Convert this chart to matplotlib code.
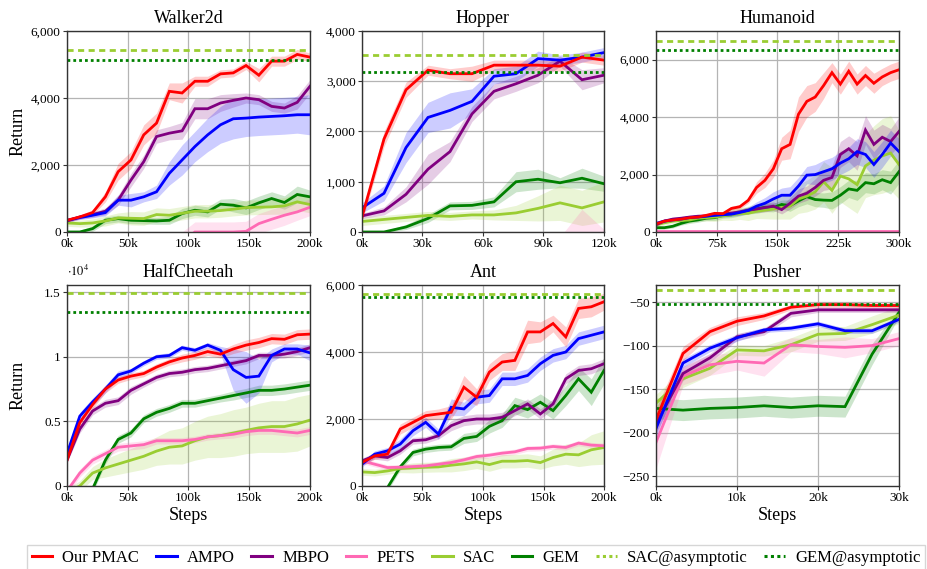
import numpy as np
import matplotlib
matplotlib.use("Agg")
import matplotlib.pyplot as plt
from matplotlib.ticker import FuncFormatter, FixedLocator
from matplotlib.lines import Line2D

plt.rcParams['font.family'] = ['Liberation Serif', 'DejaVu Serif']
plt.rcParams['mathtext.fontset'] = 'stix'

methods = ["Our PMAC", "AMPO", "MBPO", "PETS", "SAC", "GEM"]
colors = {"Our PMAC": "#ff0000", "AMPO": "#0000ff", "MBPO": "#800080",
          "PETS": "#ff69b4", "SAC": "#9acd32", "GEM": "#008000"}

# ---------------- Walker2d ----------------
walker_steps_max = 200000
walker_mean = {
    "Our PMAC": [350, 450, 580, 1050, 1800, 2150, 2900, 3250, 4200, 4150, 4500, 4500, 4720, 4750, 4970, 4680, 5100, 5100, 5300, 5220],
    "AMPO": [350, 430, 500, 580, 950, 950, 1050, 1200, 1750, 2150, 2550, 2900, 3200, 3380, 3400, 3430, 3450, 3470, 3500, 3500],
    "MBPO": [330, 450, 520, 620, 950, 1550, 2100, 2850, 2950, 3020, 3680, 3680, 3850, 3930, 4000, 3950, 3750, 3700, 3870, 4350],
    "PETS": [-2500, -2300, -2100, -1900, -1700, -1500, -1300, -1100, -800, -300, 0, 0, 0, 0, 20, 250, 380, 500, 600, 740],
    "SAC": [270, 250, 270, 330, 420, 410, 400, 520, 500, 560, 620, 620, 640, 680, 730, 740, 750, 780, 900, 820],
    "GEM": [0, 0, 100, 350, 400, 350, 340, 330, 350, 550, 650, 600, 830, 800, 720, 870, 1000, 880, 1120, 1050],
}
walker_std = {
    "Our PMAC": [50, 60, 80, 150, 250, 250, 300, 300, 250, 300, 150, 150, 120, 120, 120, 200, 150, 150, 150, 120],
    "AMPO": [50, 60, 80, 100, 150, 200, 150, 200, 350, 450, 450, 500, 550, 600, 550, 550, 550, 550, 550, 600],
    "MBPO": [50, 60, 80, 100, 150, 200, 200, 200, 200, 250, 300, 300, 250, 200, 150, 150, 150, 150, 200, 200],
    "PETS": [300, 300, 300, 300, 300, 300, 300, 300, 300, 300, 300, 300, 300, 300, 300, 300, 300, 300, 250, 250],
    "SAC": [100, 100, 120, 150, 150, 200, 200, 200, 200, 200, 200, 200, 200, 200, 220, 220, 220, 250, 250, 250],
    "GEM": [50, 50, 80, 100, 100, 100, 100, 100, 120, 150, 150, 150, 150, 200, 200, 200, 200, 200, 250, 200],
}
walker_asym = {"SAC": 5430, "GEM": 5145}

# ---------------- Hopper ----------------
hopper_steps_max = 120000
hopper_mean = {
    "Our PMAC": [300, 1850, 2830, 3220, 3150, 3150, 3320, 3320, 3320, 3300, 3480, 3420],
    "AMPO": [480, 770, 1680, 2280, 2420, 2600, 3100, 3150, 3450, 3420, 3480, 3570],
    "MBPO": [320, 420, 750, 1250, 1600, 2350, 2800, 2950, 3120, 3400, 3030, 3120],
    "PETS": [-1500, -1400, -1300, -1200, -1100, -1000, -900, -800, -700, -600, -300, -400],
    "SAC": [210, 250, 290, 330, 310, 340, 340, 380, 470, 580, 480, 600],
    "GEM": [0, 0, 100, 270, 520, 530, 600, 1000, 1050, 980, 1070, 960],
}
hopper_std = {
    "Our PMAC": [100, 150, 150, 100, 100, 150, 100, 100, 100, 100, 100, 100],
    "AMPO": [100, 150, 300, 300, 350, 250, 150, 150, 150, 100, 100, 100],
    "MBPO": [50, 80, 150, 300, 200, 150, 150, 150, 150, 100, 200, 150],
    "PETS": [300, 300, 300, 300, 300, 300, 300, 300, 300, 500, 750, 450],
    "SAC": [80, 80, 80, 80, 80, 80, 100, 150, 250, 350, 350, 400],
    "GEM": [20, 20, 50, 80, 80, 80, 100, 200, 200, 100, 200, 150],
}
hopper_asym = {"SAC": 3520, "GEM": 3180}

# ---------------- Humanoid ----------------
humanoid_steps_max = 300000
humanoid_mean = {
    "Our PMAC": [280, 380, 420, 450, 500, 520, 580, 650, 640, 820, 880, 1100, 1550, 1800, 2200, 2900, 3050, 4100, 4550, 4700, 5100, 5550, 5150, 5600, 5150, 5450, 5180, 5400, 5550, 5650],
    "AMPO": [300, 380, 420, 450, 500, 520, 550, 580, 600, 620, 680, 750, 900, 1000, 1150, 1280, 1280, 1600, 1980, 2000, 2100, 2200, 2400, 2550, 2800, 2700, 2350, 2700, 3100, 2800],
    "MBPO": [250, 380, 450, 480, 520, 550, 560, 590, 620, 660, 700, 760, 800, 850, 900, 780, 1000, 1250, 1350, 1550, 1800, 1900, 2700, 2900, 2650, 3550, 3050, 3300, 3150, 3500],
    "PETS": [20] * 30,
    "SAC": [250, 320, 380, 400, 420, 480, 500, 520, 560, 600, 640, 650, 720, 760, 800, 850, 900, 1150, 1250, 1400, 1750, 1450, 1950, 1850, 1650, 2300, 2500, 2650, 2750, 2350],
    "GEM": [150, 150, 200, 300, 380, 420, 480, 500, 580, 600, 680, 750, 800, 860, 850, 960, 920, 1080, 1230, 1130, 1110, 1100, 1280, 1500, 1450, 1720, 1680, 1820, 1720, 2100],
}
humanoid_std = {
    "Our PMAC": [50, 50, 50, 50, 50, 60, 60, 60, 60, 80, 80, 100, 200, 250, 300, 400, 500, 600, 550, 500, 450, 350, 350, 350, 350, 350, 350, 300, 300, 300],
    "AMPO": [60, 60, 60, 60, 60, 60, 60, 80, 80, 80, 100, 120, 150, 200, 250, 250, 300, 300, 300, 350, 400, 400, 400, 400, 450, 450, 450, 450, 450, 450],
    "MBPO": [50, 50, 60, 60, 60, 60, 60, 80, 80, 80, 100, 100, 120, 150, 150, 150, 200, 250, 250, 300, 350, 400, 450, 450, 500, 500, 500, 450, 450, 500],
    "PETS": [10] * 30,
    "SAC": [80, 80, 80, 80, 100, 100, 120, 150, 150, 200, 200, 250, 250, 300, 350, 400, 450, 500, 550, 600, 700, 800, 900, 1000, 1000, 1100, 1200, 1300, 1300, 1200],
    "GEM": [50, 50, 60, 60, 80, 80, 80, 100, 100, 100, 120, 120, 150, 150, 150, 150, 200, 200, 250, 250, 250, 300, 300, 300, 350, 350, 350, 350, 400, 400],
}
humanoid_asym = {"SAC": 6650, "GEM": 6355}

# ---------------- HalfCheetah ----------------
cheetah_steps_max = 200000
cheetah_mean = {
    "Our PMAC": [2000, 4900, 6300, 7500, 8200, 8500, 8700, 9200, 9600, 9900, 10100, 10400, 10200, 10600, 10900, 11100, 11400, 11350, 11700, 11750],
    "AMPO": [2500, 5400, 6500, 7500, 8600, 8900, 9500, 10000, 10100, 10700, 10500, 10900, 10500, 9000, 8400, 8500, 10100, 10600, 10600, 10300],
    "MBPO": [2000, 4400, 5800, 6400, 6600, 7400, 7900, 8400, 8700, 8800, 9000, 9100, 9300, 9500, 9700, 10100, 10100, 10200, 10400, 10700],
    "PETS": [-400, 1000, 2000, 2500, 3000, 3100, 3200, 3500, 3500, 3500, 3600, 3800, 3900, 4000, 4200, 4300, 4300, 4200, 4100, 4300],
    "SAC": [-500, 0, 1000, 1400, 1700, 2000, 2300, 2700, 3000, 3100, 3500, 3800, 3900, 4100, 4300, 4500, 4600, 4600, 4800, 5100],
    "GEM": [-6000, -3000, -235, 2000, 3600, 4100, 5200, 5700, 6000, 6400, 6400, 6600, 6800, 7000, 7200, 7400, 7400, 7500, 7650, 7800],
}
cheetah_std = {
    "Our PMAC": [200, 300, 300, 300, 250, 250, 250, 250, 250, 300, 300, 300, 300, 350, 400, 400, 400, 400, 400, 400],
    "AMPO": [200, 300, 300, 300, 300, 200, 200, 200, 200, 200, 200, 200, 300, 1600, 2000, 1300, 500, 400, 400, 600],
    "MBPO": [200, 300, 300, 300, 300, 300, 250, 250, 250, 250, 250, 250, 250, 250, 250, 250, 250, 300, 300, 300],
    "PETS": [300, 300, 300, 300, 300, 300, 300, 250, 250, 250, 250, 250, 250, 300, 300, 300, 300, 300, 300, 300],
    "SAC": [300, 400, 500, 700, 800, 900, 1000, 1100, 1300, 1400, 1500, 1600, 1700, 1800, 1800, 1900, 2000, 2000, 2100, 2000],
    "GEM": [300, 300, 300, 300, 300, 300, 300, 300, 300, 300, 300, 300, 300, 350, 350, 400, 400, 400, 400, 400],
}
cheetah_asym = {"SAC": 14960, "GEM": 13440}

# ---------------- Ant ----------------
ant_steps_max = 200000
ant_mean = {
    "Our PMAC": [700, 900, 950, 1700, 1900, 2100, 2150, 2200, 2950, 2650, 3400, 3700, 3750, 4600, 4600, 4850, 4450, 5300, 5350, 5500],
    "AMPO": [650, 950, 1050, 1250, 1650, 1900, 1550, 2350, 2300, 2650, 2700, 3200, 3200, 3300, 3650, 3900, 4000, 4400, 4500, 4600],
    "MBPO": [750, 900, 850, 1050, 1350, 1380, 1500, 1800, 1950, 2000, 2000, 2050, 2250, 2450, 2150, 2450, 3200, 3450, 3500, 3650],
    "PETS": [750, 650, 550, 560, 580, 600, 650, 700, 780, 880, 920, 980, 1020, 1120, 1130, 1180, 1150, 1280, 1220, 1200],
    "SAC": [420, 400, 450, 520, 540, 560, 570, 620, 660, 720, 640, 740, 740, 760, 700, 850, 950, 930, 1080, 1150],
    "GEM": [-1600, -800, -50, 570, 1000, 1100, 1150, 1170, 1420, 1480, 1780, 1950, 2400, 2280, 2500, 2250, 2700, 3200, 2800, 3450],
}
ant_std = {
    "Our PMAC": [80, 100, 100, 150, 150, 150, 150, 200, 350, 250, 250, 250, 300, 350, 300, 250, 300, 300, 300, 250],
    "AMPO": [80, 100, 100, 150, 150, 150, 150, 250, 200, 200, 200, 200, 200, 200, 200, 200, 200, 200, 200, 200],
    "MBPO": [80, 100, 100, 100, 100, 100, 100, 150, 150, 150, 150, 150, 150, 150, 150, 150, 150, 150, 150, 150],
    "PETS": [80, 80, 80, 80, 80, 80, 80, 80, 80, 80, 80, 80, 80, 80, 80, 80, 80, 80, 80, 80],
    "SAC": [100, 100, 100, 120, 150, 150, 150, 200, 200, 200, 200, 200, 200, 200, 200, 250, 300, 350, 450, 500],
    "GEM": [100, 100, 100, 100, 100, 100, 100, 100, 150, 150, 200, 200, 250, 250, 250, 250, 300, 350, 400, 400],
}
ant_asym = {"SAC": 5735, "GEM": 5650}

# ---------------- Pusher ----------------
pusher_steps_max = 30000
pusher_mean = {
    "Our PMAC": [-185, -109, -84, -72, -66, -56, -53, -53, -54, -54],
    "AMPO": [-195, -120, -103, -91, -82, -80, -75, -83, -83, -70],
    "MBPO": [-190, -132, -114, -90, -84, -63, -59, -59, -59, -59],
    "PETS": [-211, -135, -122, -118, -120, -99, -101, -102, -100, -92],
    "SAC": [-166, -138, -126, -105, -106, -99, -87, -86, -76, -65],
    "GEM": [-172, -174, -172, -171, -169, -171, -169, -170, -110, -62],
}
pusher_std = {
    "Our PMAC": [12, 8, 5, 5, 4, 3, 3, 3, 3, 3],
    "AMPO": [10, 5, 4, 4, 3, 3, 3, 3, 3, 3],
    "MBPO": [10, 8, 5, 4, 4, 4, 3, 3, 3, 3],
    "PETS": [30, 10, 12, 10, 15, 8, 8, 12, 8, 8],
    "SAC": [10, 10, 8, 6, 6, 8, 8, 8, 10, 10],
    "GEM": [12, 12, 12, 12, 12, 12, 12, 12, 12, 5],
}
pusher_asym = {"SAC": -36.5, "GEM": -52.5}

envs = [
    ("Walker2d", walker_steps_max, walker_mean, walker_std, walker_asym, (0, 6000), [0, 2000, 4000, 6000], [0, 50000, 100000, 150000, 200000]),
    ("Hopper", hopper_steps_max, hopper_mean, hopper_std, hopper_asym, (0, 4000), [0, 1000, 2000, 3000, 4000], [0, 30000, 60000, 90000, 120000]),
    ("Humanoid", humanoid_steps_max, humanoid_mean, humanoid_std, humanoid_asym, (0, 7000), [0, 2000, 4000, 6000], [0, 75000, 150000, 225000, 300000]),
    ("HalfCheetah", cheetah_steps_max, cheetah_mean, cheetah_std, cheetah_asym, (0, 15550), [0, 5000, 10000, 15000], [0, 50000, 100000, 150000, 200000]),
    ("Ant", ant_steps_max, ant_mean, ant_std, ant_asym, (0, 6000), [0, 2000, 4000, 6000], [0, 50000, 100000, 150000, 200000]),
    ("Pusher", pusher_steps_max, pusher_mean, pusher_std, pusher_asym, (-261, -30.5), [-250, -200, -150, -100, -50], [0, 10000, 20000, 30000]),
]

W, H = 928, 569
fig = plt.figure(figsize=(W / 100, H / 100), dpi=100)
lefts = [67, 362, 656]
widths = [243, 242, 243]
tops = [31, 285]
ah = 201

draw_order = ["GEM", "SAC", "PETS", "MBPO", "AMPO", "Our PMAC"]

for k, (name, xmax, means, stds, asym, ylim, yticks, xticks) in enumerate(envs):
    r, c = divmod(k, 3)
    ax = fig.add_axes([lefts[c] / W, 1 - (tops[r] + ah) / H, widths[c] / W, ah / H])
    for m in draw_order:
        mu = np.array(means[m], dtype=float)
        sd = np.array(stds[m], dtype=float)
        x = np.linspace(0, xmax, len(mu))
        ax.fill_between(x, mu - sd, mu + sd, color=colors[m], alpha=0.2, lw=0)
        ax.plot(x, mu, color=colors[m], lw=2.0, solid_joinstyle='miter')
    ax.axhline(asym["SAC"], color=colors["SAC"], lw=2.0, ls=(0, (2.2, 1.6)))
    ax.axhline(asym["GEM"], color=colors["GEM"], lw=2.0, ls=(0, (1, 1.1)))
    ax.set_xlim(0, xmax)
    ax.set_ylim(*ylim)
    ax.xaxis.set_major_locator(FixedLocator(xticks))
    ax.yaxis.set_major_locator(FixedLocator(yticks))
    ax.xaxis.set_major_formatter(FuncFormatter(lambda v, p: f"{int(round(v / 1000))}k"))
    if name == "HalfCheetah":
        ax.yaxis.set_major_formatter(FuncFormatter(lambda v, p: f"{v / 1e4:g}"))
        ax.text(0.0, 1.03, r"$\cdot10^4$", transform=ax.transAxes, fontsize=9, ha='left', va='bottom')
    elif name == "Pusher":
        ax.yaxis.set_major_formatter(FuncFormatter(lambda v, p: f"\u2212{abs(int(v))}" if v < 0 else f"{int(v)}"))
    else:
        ax.yaxis.set_major_formatter(FuncFormatter(lambda v, p: f"{int(v):,}"))
    ax.grid(True, color='#b4b4b4', lw=0.9)
    ax.set_axisbelow(True)
    ax.tick_params(labelsize=9.5, length=3, width=0.8, direction='out', pad=1.5, color='#333333')
    for s in ax.spines.values():
        s.set_color('#333333')
        s.set_linewidth(1.0)
    ax.set_title(name, fontsize=13, pad=6)
    if c == 0:
        ax.set_ylabel("Return", fontsize=13)
        ax.yaxis.set_label_coords((27 - lefts[c]) / widths[c], 0.5)
    if r == 1:
        ax.set_xlabel("Steps", fontsize=13, labelpad=2)

handles = [Line2D([], [], color=colors[m], lw=2.2) for m in methods]
handles.append(Line2D([], [], color=colors["SAC"], lw=2.2, ls=(0, (1, 1.1))))
handles.append(Line2D([], [], color=colors["GEM"], lw=2.2, ls=(0, (1, 1.1))))
labels = methods + ["SAC@asymptotic", "GEM@asymptotic"]
leg = fig.legend(handles, labels, loc='upper center', bbox_to_anchor=(476 / W, 1 - 545 / H), ncol=8,
                 fontsize=12, frameon=True, fancybox=False, edgecolor='#cccccc',
                 handlelength=1.25, handletextpad=0.6, columnspacing=1.0, borderpad=0.3,
                 borderaxespad=0)
leg.get_frame().set_linewidth(1.0)

fig.savefig("out.png", dpi=100)
